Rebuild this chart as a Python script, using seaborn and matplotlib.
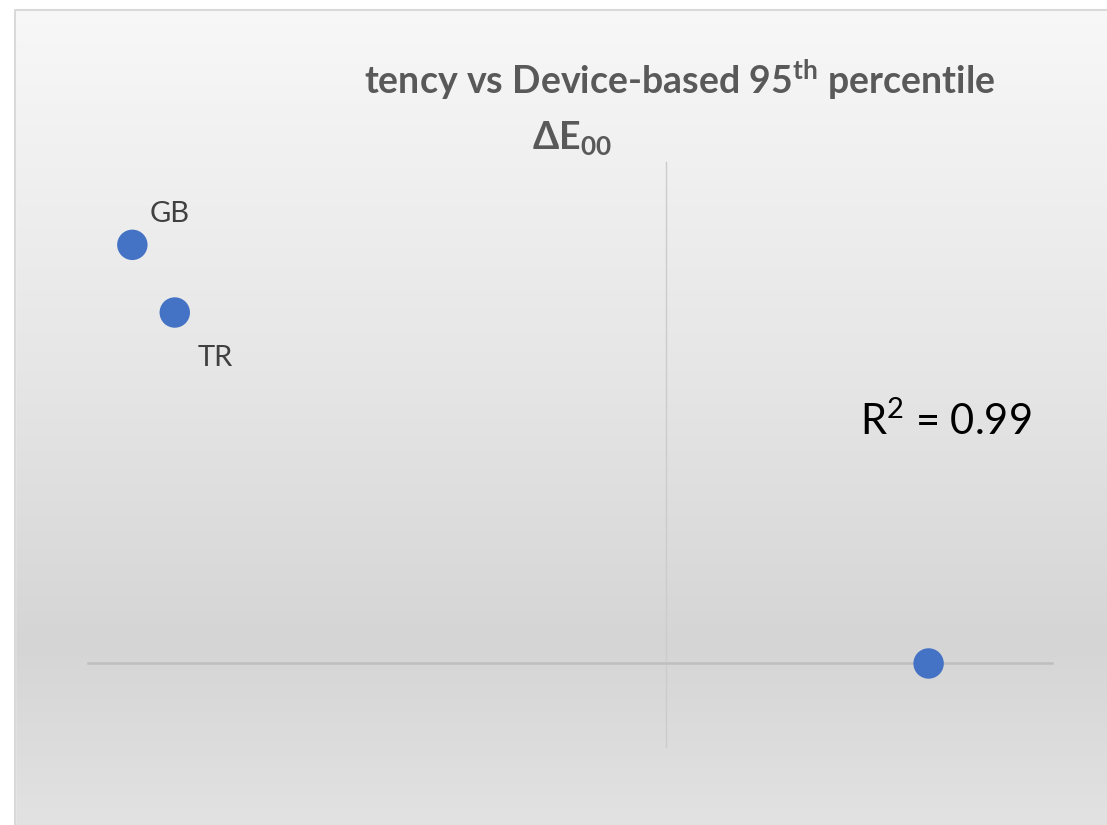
import matplotlib.pyplot as plt
import matplotlib.colors as mcolors
import seaborn as sns
import numpy as np
import pandas as pd

# data (axis units: x -3..2, y -1..6, axes cross at 0)
countries = ['GB', 'TR', '']
latency = [-2.77, -2.55, 1.36]
delta_e = [5.01, 4.2, 0.0]
r2_text = 'R$^{2}$ = 0.99'

df = pd.DataFrame({'country': countries, 'x': latency, 'y': delta_e})

sns.set_theme(style='white')
plt.rcParams['font.family'] = ['Lato', 'DejaVu Sans']
plt.rcParams['mathtext.fontset'] = 'custom'
plt.rcParams['mathtext.rm'] = 'Lato'
plt.rcParams['mathtext.it'] = 'Lato:italic'
plt.rcParams['mathtext.bf'] = 'Lato:bold'

fig = plt.figure(figsize=(11.07, 8.25), dpi=100)

# gradient background of the chart area
bg = fig.add_axes([0, 0, 1, 1], zorder=0)
stops = [(0.0, '#f8f8f8'), (0.45, '#e6e6e6'), (0.78, '#d5d5d5'), (1.0, '#e2e2e2')]
cmap = mcolors.LinearSegmentedColormap.from_list('bg', stops)
grad = np.linspace(0, 1, 256).reshape(-1, 1)
bg.imshow(grad, cmap=cmap, aspect='auto', extent=[0, 1, 0, 1], origin='upper')
bg.fill_between([0, 1], 0.988, 1, color='white', zorder=2)
bg.fill_between([0, 0.0135], 0, 1, color='white', zorder=2)
bg.plot([0.0135, 0.0135, 1], [0, 0.988, 0.988], color='#d9d9d9', lw=1.5, zorder=3)
bg.set_xlim(0, 1)
bg.set_ylim(0, 1)
bg.axis('off')

ax = fig.add_axes([0.0795, 0.0945, 0.8708, 0.709], zorder=1)
ax.patch.set_alpha(0)
sns.scatterplot(data=df, x='x', y='y', s=480, color='#4472C4', edgecolor='none', ax=ax, zorder=3)

offsets = {'GB': (27, 22), 'TR': (29, -33)}
for _, row in df.iterrows():
    if row['country']:
        ax.annotate(row['country'], (row['x'], row['y']), xytext=offsets[row['country']],
                    textcoords='offset points', ha='center', va='center',
                    fontsize=21, color='#404040')

ax.set_xlim(-3, 2)
ax.set_ylim(-1, 6)
ax.spines['left'].set_position(('data', 0))
ax.spines['bottom'].set_position(('data', 0))
ax.spines['right'].set_visible(False)
ax.spines['top'].set_visible(False)
ax.spines['left'].set_color('#cccccc')
ax.spines['left'].set_linewidth(1)
ax.spines['bottom'].set_color('#bfbfbf')
ax.spines['bottom'].set_linewidth(1.8)
ax.set_xticks([])
ax.set_yticks([])
ax.set_xlabel('')
ax.set_ylabel('')

fig.text(946 / 1107, 1 - 421 / 825, r2_text, ha='center', va='center', fontsize=30, color='black')

fig.text(680 / 1107, 1 - 80 / 825, r'tency vs Device-based 95$^{\mathbf{th}}$ percentile',
         ha='center', va='center', fontsize=27, fontweight='bold', color='#595959')
fig.text(572 / 1107, 1 - 138 / 825, r'$\mathbf{\Delta E_{00}}$',
         ha='center', va='center', fontsize=27, color='#595959')

plt.savefig('out.png', dpi=100)
plt.close()
